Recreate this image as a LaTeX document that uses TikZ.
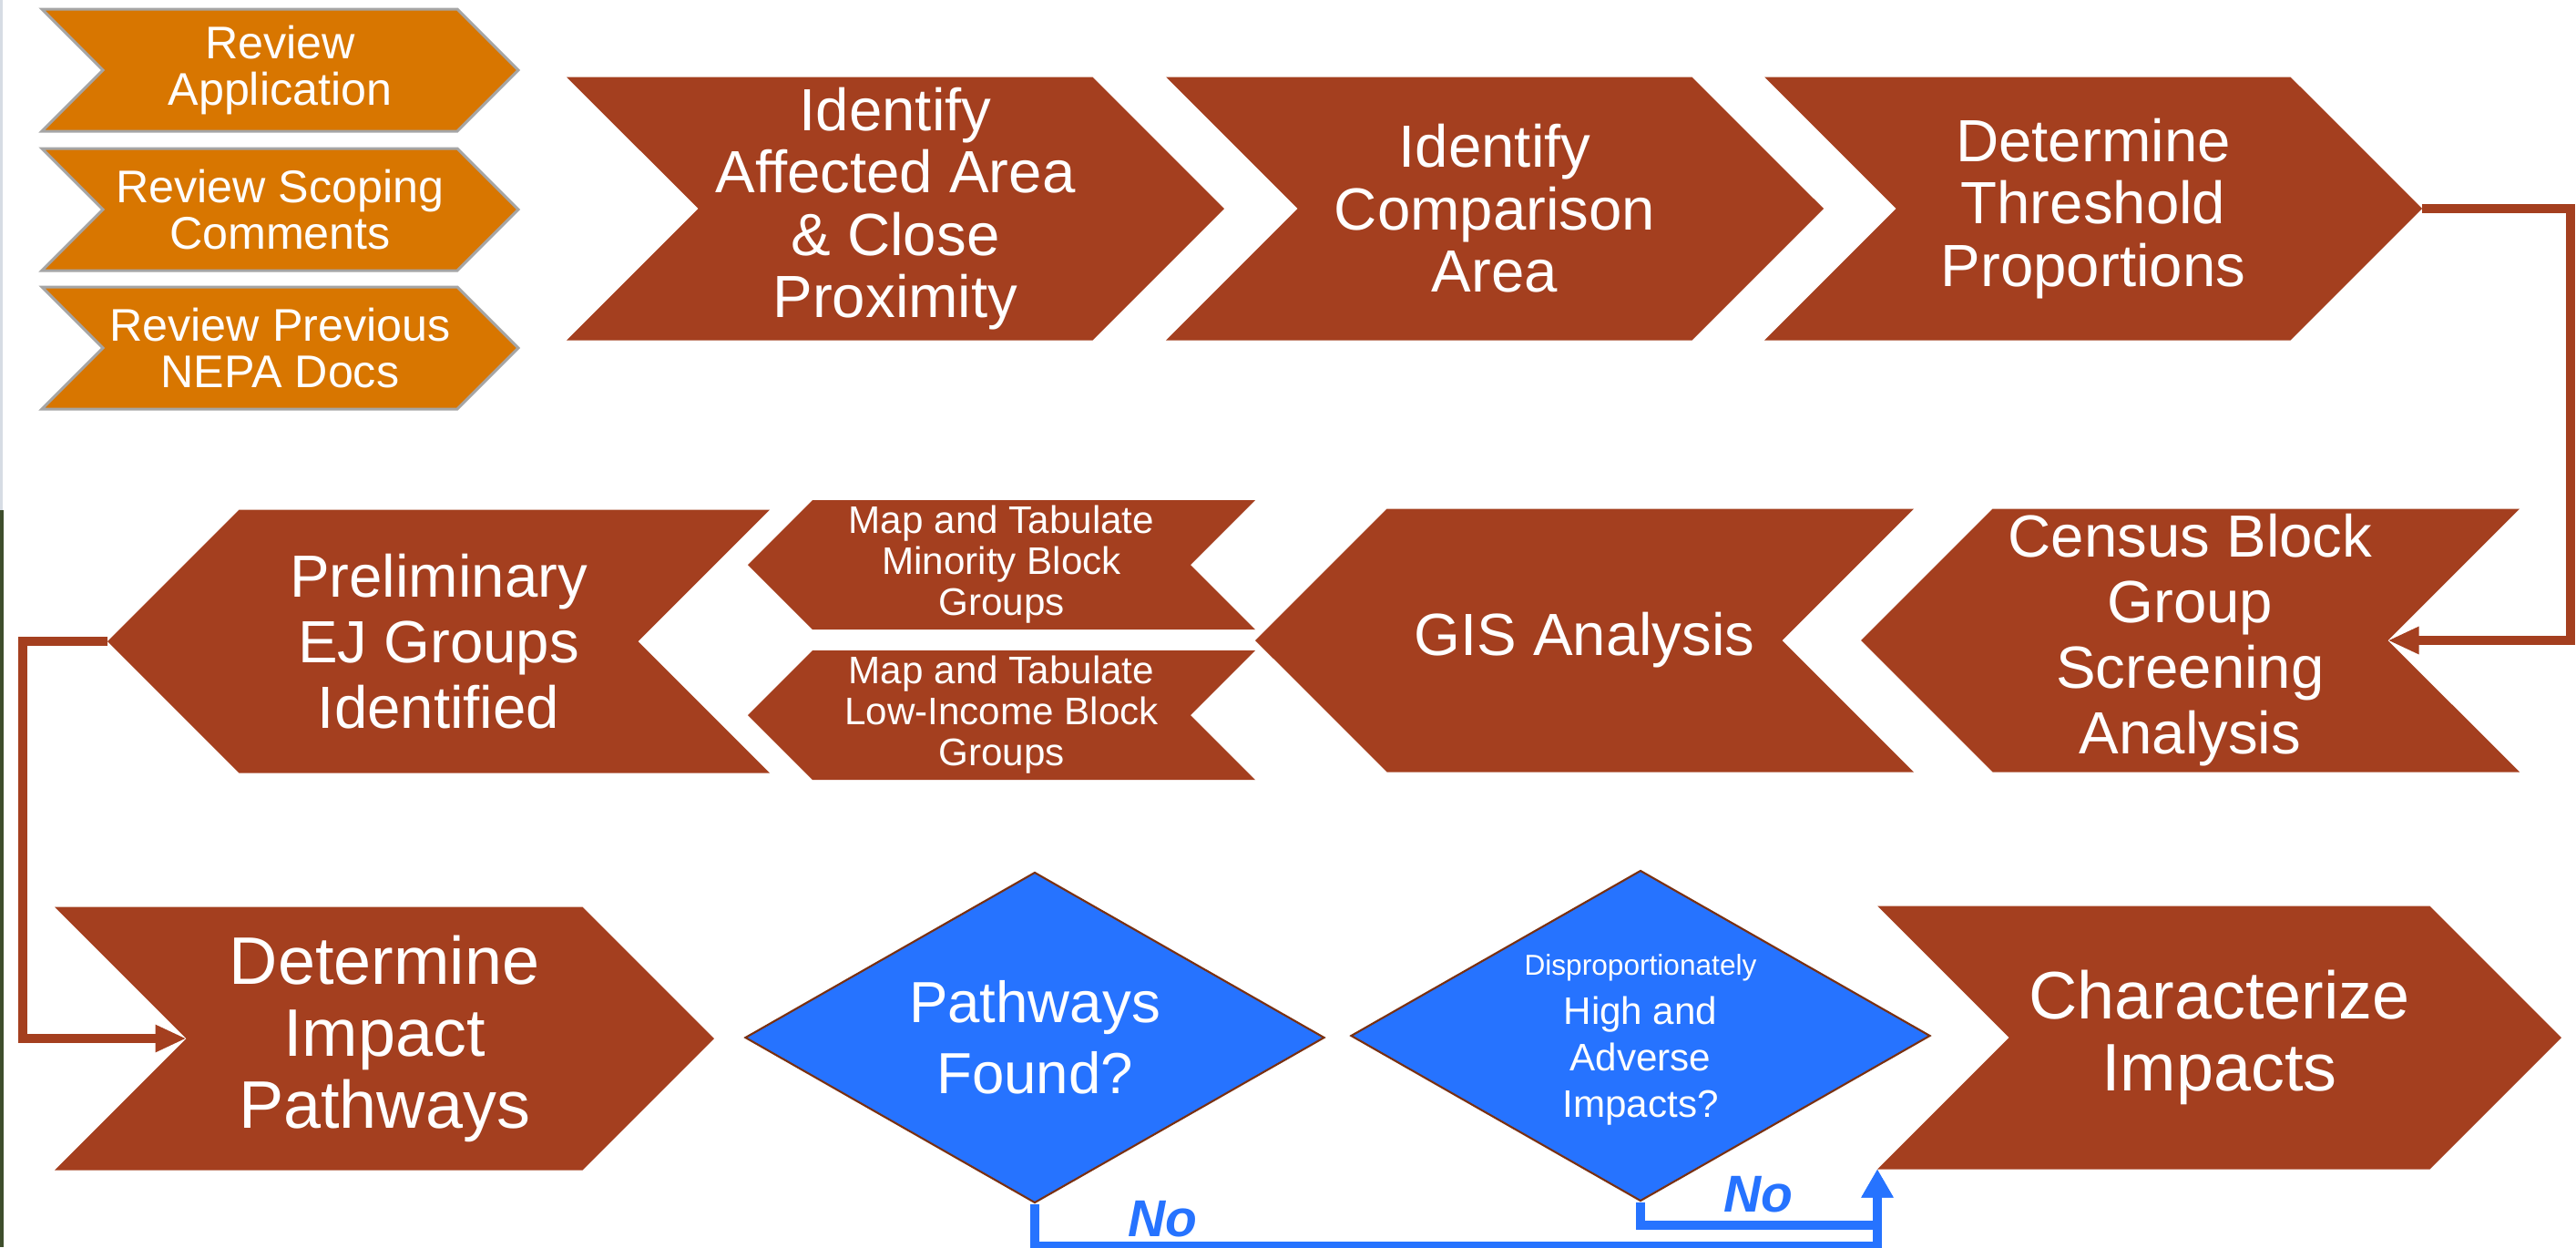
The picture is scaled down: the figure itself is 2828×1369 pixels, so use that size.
\documentclass[tikz,border=0pt]{standalone}
\usepackage{fontspec}
\setmainfont{Liberation Sans}
\usetikzlibrary{shapes.symbols,shapes.geometric,arrows.meta}
\definecolor{rust}{RGB}{164,63,31}
\definecolor{amber}{RGB}{216,118,0}
\definecolor{skyblue}{RGB}{38,115,255}
\definecolor{rim}{RGB}{165,165,165}
\definecolor{darkrust}{RGB}{122,48,16}
\definecolor{edgegrey}{RGB}{214,220,228}
\definecolor{edgegreen}{RGB}{62,78,44}

\begin{document}
\begin{tikzpicture}[x=0.1mm, y=-0.1mm,
    chevron/.style={signal, signal pointer angle=90, fill=rust, text=white,
      inner sep=0pt, outer sep=0pt, align=center, minimum height=28.9mm},
    fwd/.style={chevron, signal to=east, signal from=west},
    back/.style={chevron, signal to=west, signal from=east},
    bigtext/.style={font=\fontsize{18.6}{19.5}\selectfont},
    midtext/.style={font=\fontsize{18.6}{20.5}\selectfont},
    lowtext/.style={font=\fontsize{21}{22.5}\selectfont},
    review/.style={fwd, fill=amber, draw=rim, line width=0.85pt,
      minimum width=52.3mm, minimum height=13.4mm,
      font=\fontsize{14.3}{14.5}\selectfont},
    maptab/.style={back, minimum width=55.7mm, minimum height=14.2mm,
      font=\fontsize{12}{12.8}\selectfont},
    check/.style={diamond, aspect=1.75, fill=skyblue, draw=darkrust,
      line width=0.6pt, text=white, inner sep=0pt, align=center,
      minimum width=63.6mm, minimum height=36.3mm},
    link/.style={draw=rust, line width=2.85pt,
      -{Triangle[length=3.4mm, width=2.8mm]}},
    nolink/.style={draw=skyblue, line width=2.85pt,
      -{Triangle[length=3.1mm, width=3.3mm]}},
    nolabel/.style={text=skyblue, font=\fontsize{16.2}{16}\selectfont\bfseries\itshape}]
  \useasboundingbox (0,0) rectangle (2828,1369);
  \fill[white] (0,0) rectangle (2828,1369);
  \fill[edgegrey] (0,0) rectangle (3,560);
  \fill[edgegreen] (0,560) rectangle (4,1369);

  % first row
  \node[review] (rapp) at (307.5,77) {Review\\Application};
  \node[review] (rsco) at (307.5,230) {Review Scoping\\Comments};
  \node[review] (rnep) at (307.5,382) {Review Previous\\NEPA Docs};
  \node[fwd, bigtext, minimum width=72.2mm] (aff) at (983,229)
    {Identify\\Affected Area\\\& Close\\Proximity};
  \node[fwd, bigtext, minimum width=72.2mm] (cmp) at (1641,229)
    {Identify\\Comparison\\Area};
  \node[fwd, bigtext, minimum width=72.2mm] (thr) at (2298,229)
    {Determine\\Threshold\\Proportions};

  % second row
  \node[back, midtext, minimum width=72.3mm] (cen) at (2404.5,703)
    {Census Block\\Group\\Screening\\Analysis};
  \node[back, midtext, minimum width=72.3mm] (gis) at (1739.5,703)
    {GIS Analysis};
  \node[maptab] (mino) at (1099.5,620) {Map and Tabulate\\Minority Block\\Groups};
  \node[maptab] (lowi) at (1099.5,785) {Map and Tabulate\\Low-Income Block\\Groups};
  \node[back, midtext, minimum width=72.7mm] (pre) at (481.5,704)
    {Preliminary\\EJ Groups\\Identified};

  % third row
  \node[fwd, lowtext, minimum width=72.4mm] (dip) at (422,1140)
    {Determine\\Impact\\Pathways};
  \node[check, font=\fontsize{18.1}{22.2}\selectfont] (pwf) at (1136,1139)
    {Pathways\\Found?};
  \node[check, text depth=-3.5pt, font=\fontsize{12}{14.4}\selectfont] (dha) at (1801,1137)
    {{\fontsize{9}{11}\selectfont Disproportionately}\\[1pt]High and\\Adverse\\Impacts?};
  \node[fwd, lowtext, minimum width=75.1mm] (chr) at (2436.5,1139)
    {Characterize\\Impacts};
  \node[nolabel] (no1) at (1276,1338) {No};
  \node[nolabel] (no2) at (1930,1311) {No};

  % connectors
  \draw[link] (thr.east) -- ++(163,0) |- (cen.east);
  \draw[link] (pre.west) -- ++(-93,0) |- (dip.west);
  \draw[nolink] (pwf.south) -- ++(0,46) -| (chr.south west);
  \draw[nolink] (dha.south) -- ++(0,25) -| (chr.south west);
\end{tikzpicture}
\end{document}
